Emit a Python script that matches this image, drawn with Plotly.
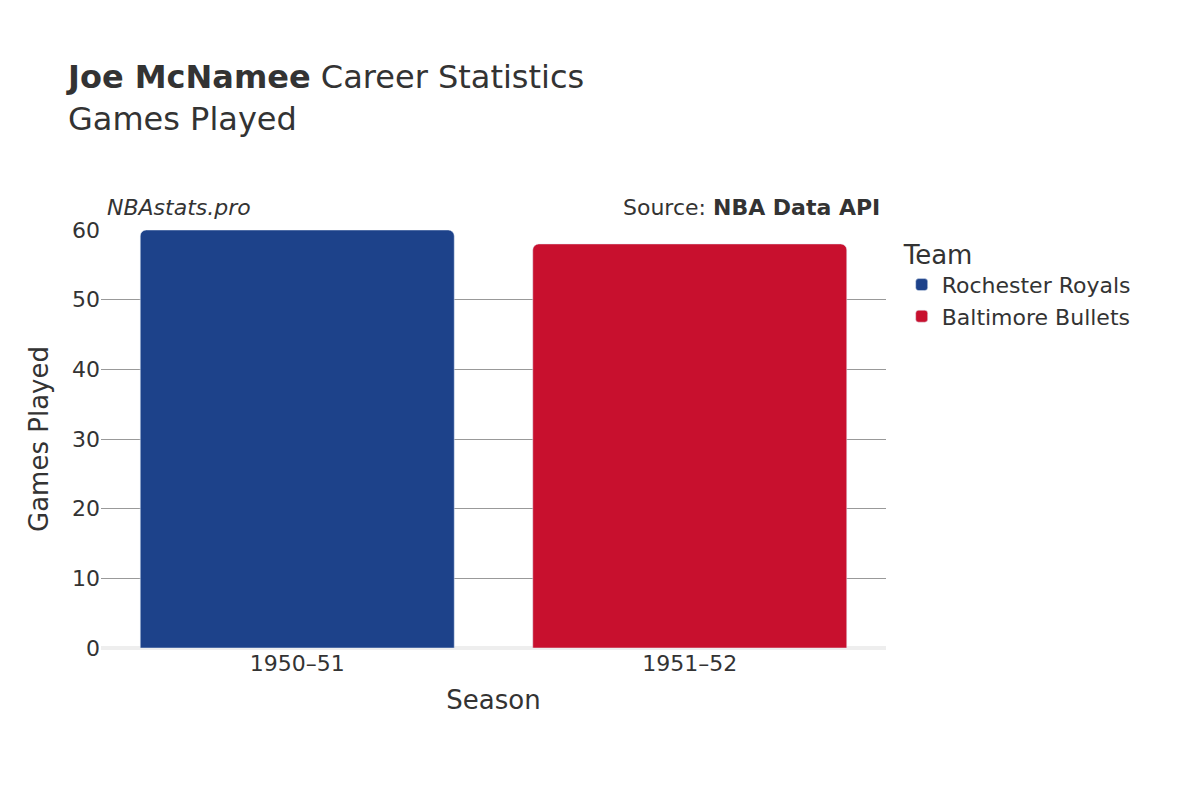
import plotly.graph_objects as go

seasons = ['1950–51', '1951–52']
teams = ['Rochester Royals', 'Baltimore Bullets']
games = [60, 58]
colors = ['#1D428A', '#C8102E']

fig = go.Figure()
for s, t, g, c in zip(seasons, teams, games, colors):
    fig.add_trace(go.Bar(x=[s], y=[g], name=t, marker=dict(color=c, cornerradius=6),
                         width=0.8))

fig.update_layout(
    width=1200, height=800,
    font=dict(family='DejaVu Sans', color='#333', size=20),
    title=dict(text='<b>Joe McNamee</b> Career Statistics<br>Games Played',
               x=0.05, xanchor='left', y=0.9, yanchor='top', font=dict(size=32)),
    plot_bgcolor='white', paper_bgcolor='white',
    margin=dict(l=93, r=322, t=222, b=160),
    barmode='overlay',
    legend=dict(title=dict(text='Team', font=dict(size=26)), x=1.02, y=1, yanchor='top',
                font=dict(size=22)),
    xaxis=dict(title=dict(text='Season', font=dict(size=26)), categoryorder='array',
               categoryarray=seasons, tickfont=dict(size=22)),
    yaxis=dict(title=dict(text='Games Played', font=dict(size=26)), range=[0, 60],
               gridcolor='#999', zeroline=True, zerolinecolor='#eee', zerolinewidth=4,
               tickfont=dict(size=22), dtick=10),
    annotations=[
        dict(text='<i>NBAstats.pro</i>', x=0.005, xref='paper', y=1.02, yref='paper',
             xanchor='left', yanchor='bottom', showarrow=False, font=dict(size=22)),
        dict(text='Source: <b>NBA Data API</b>', x=0.995, xref='paper', y=1.02, yref='paper',
             xanchor='right', yanchor='bottom', showarrow=False, font=dict(size=22)),
    ],
)

fig.write_html('out.html')
